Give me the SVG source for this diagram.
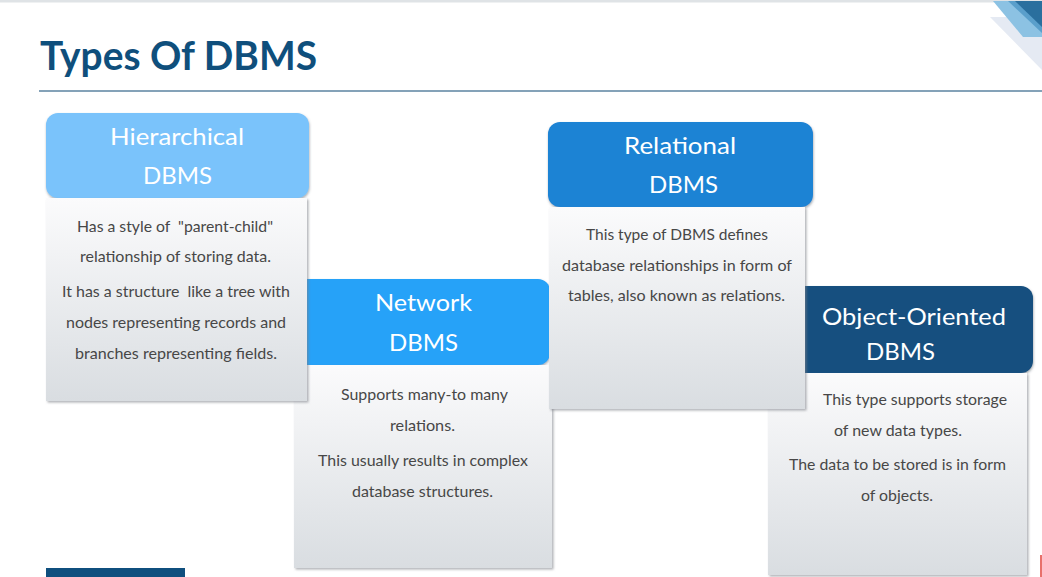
<svg xmlns="http://www.w3.org/2000/svg" width="1042" height="577" viewBox="0 0 1042 577">
<defs>
<linearGradient id="bodyGrad" x1="0" y1="0" x2="0" y2="1">
<stop offset="0" stop-color="#fbfbfc"/>
<stop offset="1" stop-color="#d9dde1"/>
</linearGradient>
<filter id="shadow" x="-5%" y="-5%" width="115%" height="115%">
<feDropShadow dx="1.5" dy="1.5" stdDeviation="1" flood-color="#7a7f85" flood-opacity="0.6"/>
</filter>
<filter id="hshadow" x="-5%" y="-5%" width="115%" height="120%">
<feDropShadow dx="0.5" dy="1.5" stdDeviation="1" flood-color="#4a5560" flood-opacity="0.5"/>
</filter>
</defs>
<style>
.title{font-family:Lato,"Open Sans","Liberation Sans",sans-serif;font-weight:700;font-size:40px;fill:#0f4f7c}
.head{font-family:Lato,"Open Sans","Liberation Sans",sans-serif;font-size:24px;fill:#ffffff}
.txt{font-family:Lato,"Open Sans","Liberation Sans",sans-serif;font-size:15px;fill:#474747}
.body{fill:url(#bodyGrad);filter:url(#shadow)}
</style>
<rect x="0" y="0" width="1042" height="577" fill="#ffffff"/>
<rect x="0" y="0" width="1042" height="2.5" fill="#dfe3e6"/>
<g id="decoration">
<polygon points="990,17 1042,17 1042,70" fill="#e5eaf3"/>
<polygon points="993,1 1042,1 1042,37 1023,37" fill="#8cc2e3"/>
<polygon points="1008,1 1042,1 1042,33" fill="#5a9fcb"/>
<polygon points="1015,1 1042,1 1042,27" fill="#2a6f9e"/>
</g>
<g id="title">
<text class="title" x="40" y="70" textLength="277" lengthAdjust="spacingAndGlyphs">Types Of DBMS</text>
<line x1="39" y1="91" x2="1042" y2="91" stroke="#5b83a0" stroke-width="1.5"/>
</g>
<rect x="46" y="568" width="139" height="9" fill="#0f4f7e"/>
<line x1="1041" y1="555" x2="1041" y2="577" stroke="#e0403a" stroke-width="1.5"/>

<g id="network">
<path d="M307,279 H538 A12,12 0 0 1 550,291 V353 A12,12 0 0 1 538,365 H307 Z" fill="#27a2f8" filter="url(#hshadow)"/>
<rect class="body" x="294" y="365" width="258" height="203"/>
<text class="head" x="375" y="311" textLength="97" lengthAdjust="spacingAndGlyphs">Network</text>
<text class="head" x="389" y="351" textLength="69" lengthAdjust="spacingAndGlyphs">DBMS</text>
<text class="txt" x="341" y="400" textLength="167" lengthAdjust="spacingAndGlyphs">Supports many-to many</text>
<text class="txt" x="390" y="431" textLength="65" lengthAdjust="spacingAndGlyphs">relations.</text>
<text class="txt" x="318" y="466" textLength="210" lengthAdjust="spacingAndGlyphs">This usually results in complex</text>
<text class="txt" x="352" y="497" textLength="141" lengthAdjust="spacingAndGlyphs">database structures.</text>
</g>

<g id="hierarchical">
<rect x="46" y="113" width="263" height="85" rx="12" ry="12" fill="#7ac3fb" filter="url(#hshadow)"/>
<rect class="body" x="46" y="198" width="261" height="203"/>
<text class="head" x="110" y="145" textLength="134" lengthAdjust="spacingAndGlyphs">Hierarchical</text>
<text class="head" x="143" y="184" textLength="69" lengthAdjust="spacingAndGlyphs">DBMS</text>
<text class="txt" x="77" y="232" textLength="196" lengthAdjust="spacingAndGlyphs" xml:space="preserve">Has a style of  "parent-child"</text>
<text class="txt" x="80" y="262" textLength="191" lengthAdjust="spacingAndGlyphs">relationship of storing data.</text>
<text class="txt" x="62" y="297" textLength="228" lengthAdjust="spacingAndGlyphs" xml:space="preserve">It has a structure  like a tree with</text>
<text class="txt" x="66" y="328" textLength="220" lengthAdjust="spacingAndGlyphs">nodes representing records and</text>
<text class="txt" x="75" y="359" textLength="202" lengthAdjust="spacingAndGlyphs">branches representing fields.</text>
</g>

<g id="object-oriented">
<path d="M790,286 H1021 A12,12 0 0 1 1033,298 V361 A12,12 0 0 1 1021,373 H790 Z" fill="#14507f" filter="url(#hshadow)"/>
<rect class="body" x="768" y="373" width="259" height="202"/>
<text class="head" x="822" y="325" textLength="184" lengthAdjust="spacingAndGlyphs">Object-Oriented</text>
<text class="head" x="866" y="360" textLength="69" lengthAdjust="spacingAndGlyphs">DBMS</text>
<text class="txt" x="823" y="405" textLength="184" lengthAdjust="spacingAndGlyphs">This type supports storage</text>
<text class="txt" x="834" y="436" textLength="128" lengthAdjust="spacingAndGlyphs">of new data types.</text>
<text class="txt" x="789" y="470" textLength="217" lengthAdjust="spacingAndGlyphs">The data to be stored is in form</text>
<text class="txt" x="861" y="501" textLength="72" lengthAdjust="spacingAndGlyphs">of objects.</text>
</g>

<g id="relational">
<rect x="548" y="122" width="265" height="85" rx="12" ry="12" fill="#1f83d4" filter="url(#hshadow)"/>
<rect class="body" x="549" y="207" width="256" height="202"/>
<text class="head" x="624" y="154" textLength="112" lengthAdjust="spacingAndGlyphs">Relational</text>
<text class="head" x="649" y="193" textLength="69" lengthAdjust="spacingAndGlyphs">DBMS</text>
<text class="txt" x="586" y="240" textLength="182" lengthAdjust="spacingAndGlyphs">This type of DBMS defines</text>
<text class="txt" x="562" y="271" textLength="230" lengthAdjust="spacingAndGlyphs">database relationships in form of</text>
<text class="txt" x="568" y="301" textLength="217" lengthAdjust="spacingAndGlyphs">tables, also known as relations.</text>
</g>

<g id="connectors"></g>
</svg>
